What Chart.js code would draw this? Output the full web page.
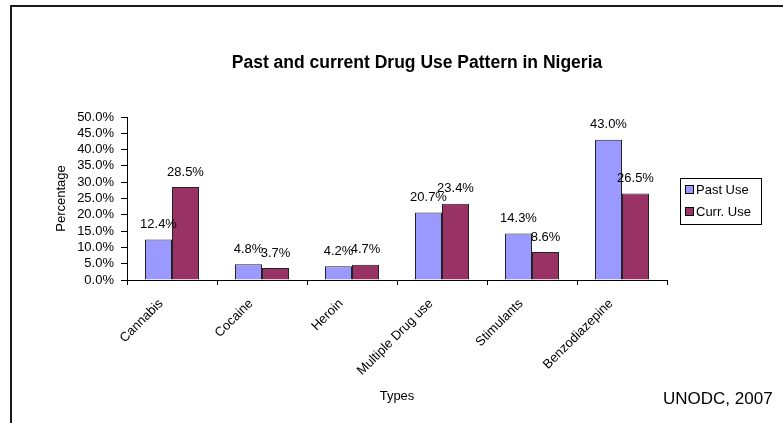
<!DOCTYPE html>
<html>
<head>
<meta charset="utf-8">
<script src="https://cdn.jsdelivr.net/npm/chart.js@4.4.0/dist/chart.umd.min.js"></script>
<style>
  html, body { margin: 0; padding: 0; background: #fff; }
  #wrap { position: relative; width: 783px; height: 423px; }
  #frame { position: absolute; left: 10px; top: 5px; right: 0; bottom: 0;
           border-left: 2px solid #1a1a1a; border-top: 2px solid #1a1a1a; }
  #src { position: absolute; left: 663px; top: 389px; font: 17px "Liberation Sans", Arial, sans-serif; color: #000; }
  canvas { position: absolute; left: 0; top: 0; }
</style>
</head>
<body>
<div id="wrap">
  <div id="frame"></div>
  <canvas id="myChart" width="783" height="423"></canvas>
  <div id="src">UNODC, 2007</div>
</div>
<script>
var types = ['Cannabis', 'Cocaine', 'Heroin', 'Multiple Drug use', 'Stimulants', 'Benzodiazepine'];
var pastUse = [12.4, 4.8, 4.2, 20.7, 14.3, 43.0];
var currUse = [28.5, 3.7, 4.7, 23.4, 8.6, 26.5];
var yTicks = [0, 5, 10, 15, 20, 25, 30, 35, 40, 45, 50];
var chartTitle = 'Past and current Drug Use Pattern in Nigeria';

var font = '"Liberation Sans", Arial, sans-serif';

// title, centred like the original rather than over the whole canvas
var topTitle = {
  id: 'topTitle',
  afterDraw: function (chart) {
    var ctx = chart.ctx;
    ctx.save();
    ctx.font = 'bold 17.5px ' + font;
    ctx.fillStyle = '#000';
    ctx.textAlign = 'center';
    ctx.textBaseline = 'middle';
    ctx.fillText(chartTitle, 417, 63);
    ctx.restore();
  }
};

// value labels above each bar
var barLabels = {
  id: 'barLabels',
  afterDatasetsDraw: function (chart) {
    var ctx = chart.ctx;
    ctx.save();
    ctx.font = '13px ' + font;
    ctx.fillStyle = '#000';
    ctx.textAlign = 'center';
    ctx.textBaseline = 'middle';
    chart.data.datasets.forEach(function (ds, i) {
      chart.getDatasetMeta(i).data.forEach(function (bar, j) {
        ctx.fillText(ds.data[j].toFixed(1) + '%', bar.x, bar.y - 15);
      });
    });
    ctx.restore();
  }
};

// boxed legend on the right
var boxLegend = {
  id: 'boxLegend',
  afterDraw: function (chart) {
    var ctx = chart.ctx;
    var x = 680, y = 178, w = 81, h = 46;
    ctx.save();
    ctx.strokeStyle = '#000';
    ctx.lineWidth = 1;
    ctx.strokeRect(x + 0.5, y + 0.5, w, h);
    ctx.font = '13px ' + font;
    ctx.textBaseline = 'middle';
    chart.data.datasets.forEach(function (ds, i) {
      var cy = y + 12 + i * 22;
      ctx.fillStyle = ds.backgroundColor;
      ctx.fillRect(x + 5.5, cy - 4.5, 8, 8);
      ctx.strokeStyle = '#000';
      ctx.strokeRect(x + 5.5, cy - 4.5, 8, 8);
      ctx.fillStyle = '#000';
      ctx.fillText(ds.label, x + 16, cy);
    });
    ctx.restore();
  }
};

var ctx = document.getElementById('myChart');
var myChart = new Chart(ctx, {
  type: 'bar',
  data: {
    labels: types,
    datasets: [
      { label: 'Past Use', data: pastUse, backgroundColor: '#9999ff', borderColor: '#222', borderWidth: 1 },
      { label: 'Curr. Use', data: currUse, backgroundColor: '#993366', borderColor: '#222', borderWidth: 1 }
    ]
  },
  plugins: [topTitle, barLabels, boxLegend],
  options: {
    responsive: false,
    animation: false,
    layout: { padding: { left: 50, right: 116, top: 117, bottom: 15 } },
    datasets: { bar: { categoryPercentage: 0.6, barPercentage: 1.0 } },
    plugins: {
      legend: { display: false },
      tooltip: { enabled: false },
      title: { display: false }
    },
    scales: {
      x: {
        afterFit: function (s) { s.height = 128; },
        grid: { drawOnChartArea: false, offset: true, tickLength: 5, color: '#000' },
        border: { display: true, color: '#000' },
        ticks: {
          color: '#000', font: { family: font, size: 13 },
          maxRotation: 45, minRotation: 45, autoSkip: false,
          labelOffset: -11, padding: 11
        },
        title: { display: true, text: 'Types', color: '#000', font: { family: font, size: 13 }, padding: 4 }
      },
      y: {
        min: 0, max: 50,
        afterFit: function (s) { s.width = 77; },
        afterBuildTicks: function (s) { s.ticks = yTicks.map(function (v) { return { value: v }; }); },
        grid: { drawOnChartArea: false, tickLength: 6, color: '#000' },
        border: { display: true, color: '#000' },
        ticks: {
          color: '#000', font: { family: font, size: 13 }, padding: 7, autoSkip: false,
          callback: function (v) { return v.toFixed(1) + '%'; }
        },
        title: { display: true, text: 'Percentage', color: '#000', font: { family: font, size: 13 }, padding: 4 }
      }
    }
  }
});
</script>
</body>
</html>
